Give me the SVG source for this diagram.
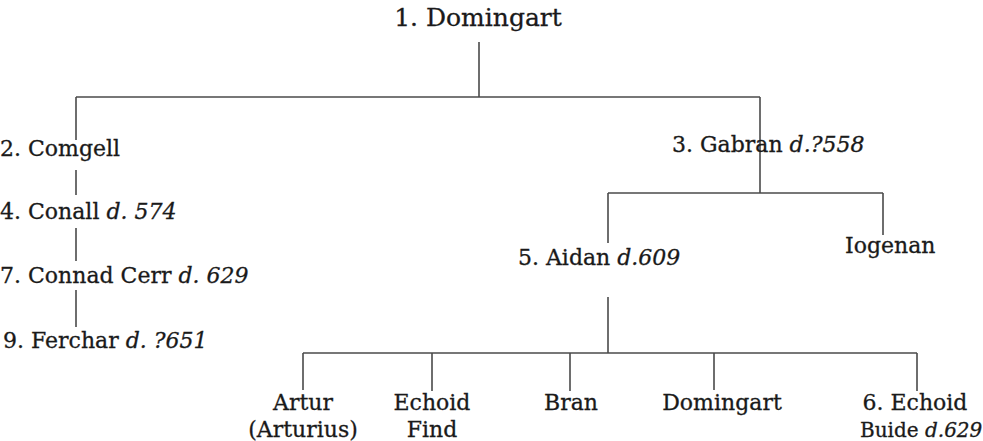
<svg xmlns="http://www.w3.org/2000/svg" width="983" height="441" viewBox="0 0 983 441">
<style>
text { font-family: "DejaVu Serif", "Liberation Serif", serif; font-size: 22px; fill: #1a1a1a; stroke: #1a1a1a; stroke-width: 0.3; }
.it { font-style: italic; }
.mid { text-anchor: middle; }
.title { font-size: 25px; }
.sm { font-size: 20px; }
#connectors line { stroke: #4a4a4a; stroke-width: 1.6; }
</style>
<rect width="983" height="441" fill="#ffffff"/>
<g id="connectors">
<line x1="479" y1="42" x2="479" y2="97"/>
<line x1="76" y1="97" x2="760" y2="97"/>
<line x1="76" y1="97" x2="76" y2="140"/>
<line x1="76" y1="170" x2="76" y2="195"/>
<line x1="76" y1="228" x2="76" y2="261"/>
<line x1="76" y1="290" x2="76" y2="327"/>
<line x1="760" y1="97" x2="760" y2="193"/>
<line x1="608" y1="193" x2="883" y2="193"/>
<line x1="608" y1="193" x2="608" y2="243"/>
<line x1="883" y1="193" x2="883" y2="235"/>
<line x1="608" y1="297" x2="608" y2="353"/>
<line x1="303" y1="353" x2="917" y2="353"/>
<line x1="303" y1="353" x2="303" y2="390"/>
<line x1="432" y1="353" x2="432" y2="391"/>
<line x1="570" y1="353" x2="570" y2="391"/>
<line x1="714" y1="353" x2="714" y2="390"/>
<line x1="917" y1="353" x2="917" y2="391"/>
</g>
<g id="n1"><text class="title mid" x="478" y="26">1. Domingart</text></g>
<g id="n2"><text x="0" y="156">2. Comgell</text></g>
<g id="n4"><text x="0" y="219">4. Conall <tspan class="it">d. 574</tspan></text></g>
<g id="n7"><text x="0" y="283">7. Connad Cerr <tspan class="it">d. 629</tspan></text></g>
<g id="n9"><text x="3" y="348">9. Ferchar <tspan class="it">d. ?651</tspan></text></g>
<g id="n3"><text x="672" y="152">3. Gabran <tspan class="it">d.?558</tspan></text></g>
<g id="n5"><text x="518" y="265">5. Aidan <tspan class="it">d.609</tspan></text></g>
<g id="iogenan"><text x="845" y="253">Iogenan</text></g>
<g id="artur"><text class="mid" x="303" y="410">Artur</text><text class="mid" x="303" y="437">(Arturius)</text></g>
<g id="echoid-find"><text class="mid" x="432" y="410">Echoid</text><text class="mid" x="432" y="437">Find</text></g>
<g id="bran"><text class="mid" x="571" y="410">Bran</text></g>
<g id="domingart2"><text class="mid" x="722" y="410">Domingart</text></g>
<g id="n6"><text class="mid" x="915" y="410">6. Echoid</text><text class="sm" x="860" y="437">Buide <tspan class="it">d.629</tspan></text></g>
</svg>
